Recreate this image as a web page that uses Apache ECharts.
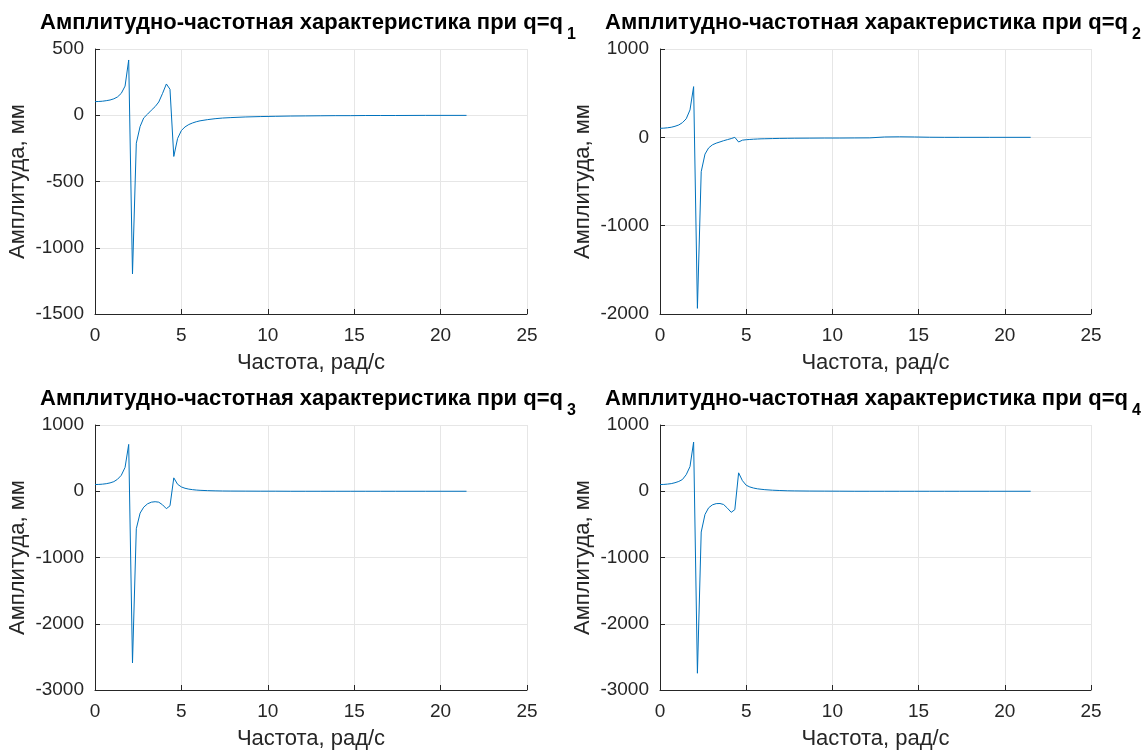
<!DOCTYPE html>
<html>
<head>
<meta charset="utf-8">
<title>АЧХ</title>
<script src="https://cdn.jsdelivr.net/npm/echarts@6/dist/echarts.min.js"></script>
<style>
  html, body { margin: 0; padding: 0; background: #fff; }
  #chart { width: 1148px; height: 751px; }
</style>
</head>
<body>
<div id="chart"></div>
<script>
// Frequency samples, rad/s
const freq = [0, 0.22, 0.43, 0.65, 0.87, 1.09, 1.30, 1.52, 1.74, 1.95, 2.17, 2.39, 2.61, 2.82, 3.04, 3.26,
  3.48, 3.69, 3.91, 4.13, 4.34, 4.56, 4.78, 5.00, 5.21, 5.43, 5.65, 5.86, 6.08, 6.52, 6.95, 7.38,
  7.82, 8.69, 9.56, 10.43, 11.30, 12.17, 13.03, 13.90, 14.77, 15.64, 16.51, 17.38, 19.12, 21.50];

// Amplitude, mm, for each generalized coordinate
const ampQ1 = [103, 104, 106, 110, 115, 124, 138, 165, 220, 417, -1198, -211, -85, -20, 8, 38,
  65, 100, 165, 236, 196, -311, -175, -115, -88, -70, -58, -49, -42, -33, -26, -21,
  -18, -13, -10, -8, -6, -5, -4, -3, -3, -2, -2, -2, -1, -1];
const ampQ2 = [102, 104, 108, 114, 125, 140, 166, 210, 310, 574, -1936, -389, -190, -120, -85, -66,
  -52, -38, -26, -14, 0, -53, -32, -27, -24, -21, -19, -17, -16, -14, -12, -11,
  -10, -9, -8, -8, -7, -6, 4, 6, 4, 1, 0, 0, 0, 0];
const ampQ3 = [101, 103, 107, 114, 126, 145, 180, 240, 360, 707, -2591, -566, -330, -240, -190, -165,
  -158, -165, -205, -263, -220, 202, 105, 65, 45, 32, 24, 18, 14, 9, 6, 4,
  3, 2, 1, 1, 0, 0, 0, 0, 0, 0, 0, 0, 0, 0];
const ampQ4 = [101, 103, 108, 115, 129, 148, 177, 250, 372, 742, -2747, -616, -350, -250, -205, -187,
  -185, -200, -255, -318, -278, 278, 160, 91, 65, 48, 37, 30, 24, 16, 11, 7,
  5, 3, 2, 1, 0, 0, 0, 0, 0, 0, 0, 0, 0, 0];

const subscripts = ['1', '2', '3', '4'];
const yRanges = [[-1500, 500, 500], [-2000, 1000, 1000], [-3000, 1000, 1000], [-3000, 1000, 1000]];
const titleText = 'Амплитудно-частотная характеристика при q=q';
const xName = 'Частота, рад/с';
const yName = 'Амплитуда, мм';

const FONT = '"Liberation Sans", Arial, Helvetica, sans-serif';
const AX = '#262626';
const GRID = '#e6e6e6';
const LINE = '#0072BD';

const grids = [
  { left: 95, top: 49, width: 432, height: 265 },
  { left: 660, top: 49, width: 431, height: 265 },
  { left: 95, top: 425, width: 432, height: 265 },
  { left: 660, top: 425, width: 431, height: 265 }
];
const titlePos = [[40, 12], [605, 12], [40, 388], [605, 388]];

const seriesData = [ampQ1, ampQ2, ampQ3, ampQ4];
const plainNumber = v => String(v);

const option = {
  animation: false,
  backgroundColor: '#ffffff',
  textStyle: { fontFamily: FONT },
  title: subscripts.map((s, i) => ({
    left: titlePos[i][0],
    top: titlePos[i][1],
    padding: 0,
    text: '{a|' + titleText + '}{s|' + s + '}',
    textStyle: {
      rich: {
        a: { fontFamily: FONT, fontSize: 22, fontWeight: 'bold', color: '#000', lineHeight: 24, verticalAlign: 'top' },
        s: { fontFamily: FONT, fontSize: 16, fontWeight: 'bold', color: '#000', lineHeight: 18, verticalAlign: 'top', padding: [15, 0, 0, 4] }
      }
    }
  })),
  grid: grids.map(g => Object.assign({ containLabel: false }, g)),
  xAxis: grids.map((g, i) => ({
    type: 'value',
    gridIndex: i,
    min: 0, max: 25, interval: 5,
    name: xName,
    nameLocation: 'middle',
    nameGap: 38,
    nameTextStyle: { fontFamily: FONT, fontSize: 22, color: AX },
    axisLine: { onZero: false, lineStyle: { color: AX, width: 1 } },
    axisTick: { inside: true, length: 5, lineStyle: { color: AX } },
    axisLabel: { fontFamily: FONT, fontSize: 19, color: AX, margin: 12, formatter: plainNumber },
    splitLine: { show: true, lineStyle: { color: GRID, width: 1 } }
  })),
  yAxis: grids.map((g, i) => ({
    type: 'value',
    gridIndex: i,
    min: yRanges[i][0], max: yRanges[i][1], interval: yRanges[i][2],
    name: yName,
    nameLocation: 'middle',
    nameGap: 66,
    nameTextStyle: { fontFamily: FONT, fontSize: 22, color: AX },
    axisLine: { onZero: false, lineStyle: { color: AX, width: 1 } },
    axisTick: { inside: true, length: 5, lineStyle: { color: AX } },
    axisLabel: { fontFamily: FONT, fontSize: 19, color: AX, margin: 11, formatter: plainNumber },
    splitLine: { show: true, lineStyle: { color: GRID, width: 1 } }
  })),
  series: seriesData.map((amp, i) => ({
    type: 'line',
    xAxisIndex: i,
    yAxisIndex: i,
    showSymbol: false,
    symbol: 'none',
    smooth: false,
    lineStyle: { color: LINE, width: 1 },
    data: freq.map((f, k) => [f, amp[k]])
  }))
};

const chart = echarts.init(document.getElementById('chart'), null, { renderer: 'canvas' });
chart.setOption(option);
</script>
</body>
</html>
